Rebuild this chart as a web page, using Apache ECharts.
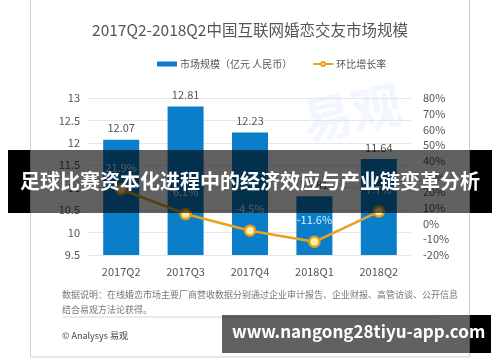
<!DOCTYPE html>
<html><head><meta charset="utf-8">
<script src="https://cdn.jsdelivr.net/npm/echarts@6/dist/echarts.min.js"></script>
<style>html,body{margin:0;padding:0;background:#fff}#c{width:500px;height:362px}</style>
</head><body><div id="c"></div>
<script>
const categories = ['2017Q2','2017Q3','2017Q4','2018Q1','2018Q2'];
const marketSize = [12.07, 12.81, 12.23, 10.81, 11.64];
const growthRate = [21.9, 6.1, -4.5, -11.6, 7.7];
const leftTicks = [9.5, 13, 0.5];
const rightTicks = [-20, 80, 10];
const titleText = '2017Q2-2018Q2中国互联网婚恋交友市场规模';
const seriesNames = ['市场规模（亿元 人民币）', '环比增长率'];
const noteLines = ['数据说明：在线婚恋市场主要厂商营收数据分别通过企业审计报告、企业财报、高管访谈、公开信息', '结合易观方法论获得。'];
const sourceText = '© Analysys 易观';
const bannerText = '足球比赛资本化进程中的经济效应与产业链变革分析';
const urlText = 'www.nangong28tiyu-app.com';

const F = '"Noto Sans CJK SC","Noto Sans",sans-serif';
const chart = echarts.init(document.getElementById('c'), null, {renderer:'canvas'});
chart.setOption({
  animation:false,
  textStyle:{fontFamily:F},
  title:{text:titleText,left:'center',top:17,textStyle:{fontSize:15.5,fontWeight:'normal',color:'#555',fontFamily:F}},
  legend:{top:54,left:152,itemGap:20,itemWidth:20,itemHeight:5,textStyle:{fontSize:10,color:'#555',fontFamily:F,padding:[0,0,0,-2]},
    data:[{name:seriesNames[0],icon:'rect'},{name:seriesNames[1]}]},
  grid:{left:89,right:89,top:98,bottom:107},
  xAxis:{type:'category',data:categories,axisTick:{show:false},
    axisLine:{show:false},
    axisLabel:{color:'#555',fontSize:11,margin:11,fontFamily:F}},
  yAxis:[
    {type:'value',min:leftTicks[0],max:leftTicks[1],interval:leftTicks[2],
     axisLabel:{color:'#555',fontSize:11,margin:9,fontFamily:F},
     splitLine:{lineStyle:{color:'#e6e6e6'}},axisLine:{show:false},axisTick:{show:false}},
    {type:'value',min:rightTicks[0],max:rightTicks[1],interval:rightTicks[2],
     axisLabel:{color:'#555',fontSize:11,margin:12,formatter:'{value}%',fontFamily:F},
     splitLine:{show:false},axisLine:{show:false},axisTick:{show:false}}
  ],
  series:[
    {name:seriesNames[0],type:'bar',data:marketSize,barWidth:36,
     itemStyle:{color:'#0a7ec8'},
     label:{show:true,position:'top',distance:6,color:'#555',fontSize:11,fontFamily:F}},
    {name:seriesNames[1],type:'line',yAxisIndex:1,data:growthRate,
     lineStyle:{color:'#e8a21f',width:2.5},symbol:'circle',symbolSize:10,
     itemStyle:{color:'#fff1a8',borderColor:'#e8a21f',borderWidth:2.5},
     label:{show:true,position:'top',distance:10,color:'#dcefff',fontSize:11,formatter:p=>p.value+'%',fontFamily:F}}
  ],
  graphic:[
    {type:'rect',z:-10,shape:{x:30.5,y:-2,width:439,height:359},style:{fill:'none',stroke:'#cfcfcf',lineWidth:1}},
    {type:'text',z:-5,left:298,top:78,rotation:0.2,style:{text:'易观',fontSize:50,fontWeight:'bold',fill:'rgba(120,180,225,0.10)',fontFamily:F}},
    {type:'text',left:62,top:290,style:{text:noteLines[0],fontSize:9,fill:'#777',fontFamily:F}},
    {type:'text',left:62,top:305,style:{text:noteLines[1],fontSize:9,fill:'#777',fontFamily:F}},
    {type:'line',shape:{x1:62,y1:317,x2:438,y2:317},style:{stroke:'#d5d5d5',lineWidth:1}},
    {type:'text',left:62,top:331,style:{text:sourceText,fontSize:9,fill:'#444',fontFamily:F}},
    {type:'rect',z:100,shape:{x:8,y:150,width:22,height:63},style:{fill:'#000'}},
    {type:'rect',z:100,shape:{x:470,y:150,width:22,height:63},style:{fill:'#000'}},
    {type:'rect',z:100,shape:{x:30,y:150,width:440,height:63},style:{fill:'rgba(0,0,0,0.62)'}},
    {type:'text',z:101,left:'center',top:171,style:{text:bannerText,fontSize:20,fontWeight:'bold',fill:'#fff',fontFamily:F}},
    {type:'rect',z:100,shape:{x:222,y:315,width:248,height:38},style:{fill:'rgba(0,0,0,0.62)'}},
    {type:'rect',z:100,shape:{x:470,y:315,width:21,height:38},style:{fill:'#000'}},
    {type:'text',z:101,left:232,top:323,style:{text:urlText,fontSize:17,fontWeight:'bold',fill:'#fff',fontFamily:F}}
  ]
});
</script></body></html>
